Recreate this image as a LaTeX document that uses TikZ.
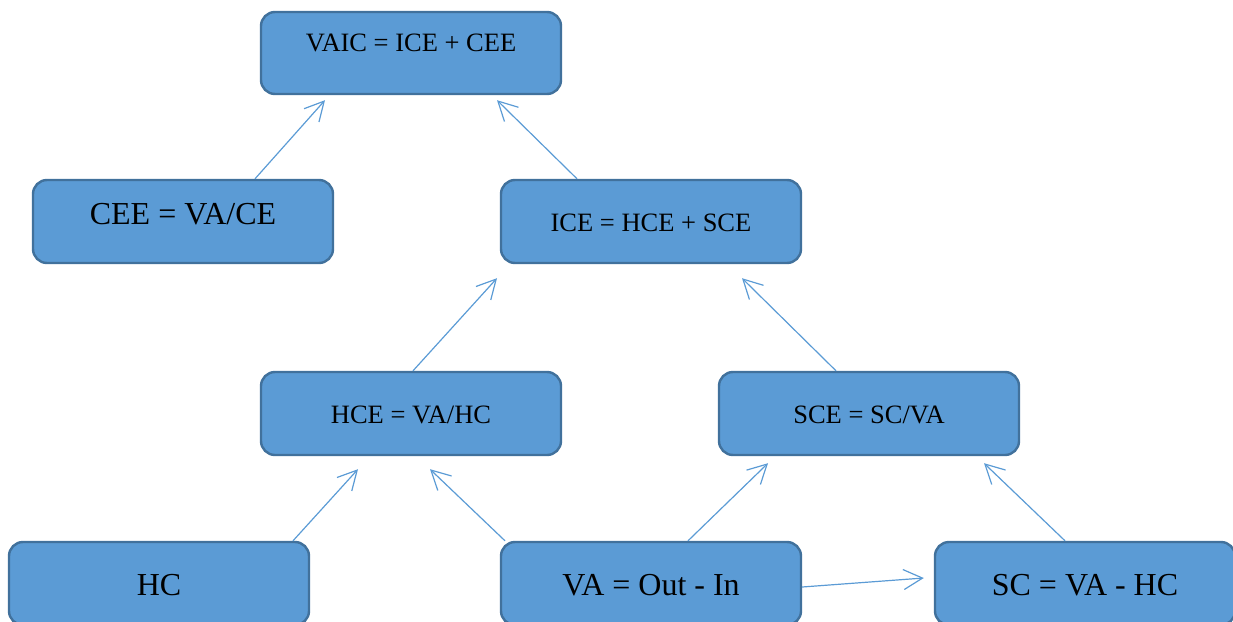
\documentclass[tikz,border=0pt]{standalone}
\usepackage{fontspec}
\setmainfont{Liberation Serif}
\usetikzlibrary{arrows.meta}
\definecolor{boxfill}{HTML}{5B9BD5}
\definecolor{boxline}{HTML}{41719C}
\definecolor{linkcol}{HTML}{5B9BD5}
\tikzset{
  box/.style={draw=boxline, fill=boxfill, line width=2.4pt, rounded corners=14pt,
    minimum width=300pt, inner xsep=0pt, inner ysep=0pt, anchor=base},
  small/.style={font=\fontsize{26.5}{30}\selectfont},
  large/.style={font=\fontsize{32}{36}\selectfont},
  link/.style={draw=linkcol, line width=1.2pt,
    -{Straight Barb[length=19pt, width=20pt, line width=1.2pt]}}
}
\begin{document}
\begin{tikzpicture}[x=1pt, y=-1pt]
\useasboundingbox (0,0) rectangle (1233,621);

% boxes (placed by text baseline; height/depth give the box extent)
\node[box, small, text height=39pt, text depth=43pt] (vaic) at (411,51) {VAIC = ICE + CEE};
\node[box, large, text height=44pt, text depth=39pt] (cee) at (183,224) {CEE = VA/CE};
\node[box, small, text height=51pt, text depth=32pt] (ice) at (651,231) {ICE = HCE + SCE};
\node[box, small, text height=51.5pt, text depth=31.5pt] (hce) at (411,423.5) {HCE = VA/HC};
\node[box, small, text height=51.5pt, text depth=31.5pt] (sce) at (869,423.5) {SCE = SC/VA};
\node[box, large, text height=53pt, text depth=30pt] (hc) at (159,595) {HC};
\node[box, large, text height=53pt, text depth=30pt] (va) at (651,595) {VA = Out - In};
\node[box, large, text height=53pt, text depth=30pt] (sc) at (1085,595) {SC = VA - HC};

% connectors
\draw[link] ([xshift=72pt]cee.north) -- ([xshift=-86pt, yshift=-5pt]vaic.south);
\draw[link] ([xshift=-74pt]ice.north) -- ([xshift=86pt, yshift=-5pt]vaic.south);
\draw[link] ([xshift=2pt]hce.north) -- ([xshift=-154pt, yshift=-14pt]ice.south);
\draw[link] ([xshift=-33pt]sce.north) -- ([xshift=91pt, yshift=-14pt]ice.south);
\draw[link] ([xshift=134pt]hc.north) -- ([xshift=-53pt, yshift=-13pt]hce.south);
\draw[link] ([xshift=-146pt]va.north) -- ([xshift=19pt, yshift=-13pt]hce.south);
\draw[link] ([xshift=37pt]va.north) -- ([xshift=-101pt, yshift=-7pt]sce.south);
\draw[link] ([xshift=-20pt]sc.north) -- ([xshift=115pt, yshift=-7pt]sce.south);
\draw[link] ([yshift=-3.5pt]va.east) -- ([xshift=-10pt, yshift=5.5pt]sc.west);
\end{tikzpicture}
\end{document}
